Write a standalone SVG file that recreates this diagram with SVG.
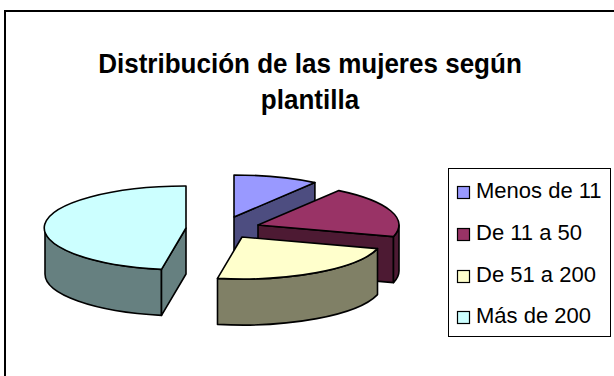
<svg xmlns="http://www.w3.org/2000/svg" width="614" height="376" viewBox="0 0 614 376">
<style>
.t{font-family:"Liberation Sans",Arial,sans-serif;font-weight:bold;font-size:28px;fill:#000;text-anchor:middle}
.l{font-family:"Liberation Sans",Arial,sans-serif;font-size:22px;fill:#000}
.o{stroke:#000;stroke-width:1.6;stroke-linejoin:round}
.k{stroke:#000;stroke-width:1.2}
</style>
<rect x="0" y="0" width="614" height="376" fill="#fff"/>
<rect x="5" y="11" width="640" height="400" fill="#fff" stroke="#000" stroke-width="2"/>
<g id="title" transform="scale(0.93,1)">
<text class="t" x="333.3" y="73">Distribución de las mujeres según</text>
<text class="t" x="333.3" y="109">plantilla</text>
</g>
<g id="slice-menos-de-11">
<path class="o" fill="#4D4D80" d="M234,217 L314.9,182.6 L314.9,228.6 L234,263 Z"/>
<path class="o" fill="#9999FF" d="M234,217 L314.9,182.6 A141,42 0 0,0 234,175 Z"/>
</g>
<g id="slice-de-11-a-50">
<path class="o" fill="#4D1A33" d="M258,225 L393.5,236.6 L393.5,282.6 L258,271 Z"/>
<path class="o" fill="#4D1A33" d="M399,225 A141,42 0 0,1 393.5,236.6 L393.5,282.6 A141,42 0 0,0 399,271 Z"/>
<path class="o" fill="#993366" d="M258,225 L393.5,236.6 A141,42 0 0,0 338.9,190.6 Z"/>
</g>
<g id="slice-de-51-a-200">
<path class="o" fill="#808066" d="M377.5,248.6 A141,42 0 0,1 217.5,278.4 L217.5,324.4 A141,42 0 0,0 377.5,294.6 Z"/>
<path class="o" fill="#FFFFCC" d="M242,237 L377.5,248.6 A141,42 0 0,1 217.5,278.4 Z"/>
</g>
<g id="slice-mas-de-200">
<path class="o" fill="#668080" d="M45,228 A141,42 0 0,0 161.5,269.4 L161.5,315.4 A141,42 0 0,1 45,274 Z"/>
<path class="o" fill="#668080" d="M186,228 L161.5,269.4 L161.5,315.4 L186,274 Z"/>
<path class="o" fill="#CCFFFF" d="M186,228 L186,186 A141,42 0 0,0 161.5,269.4 Z"/>
</g>
<g id="legend">
<rect x="448.5" y="168.5" width="162" height="168" fill="#fff" stroke="#000" stroke-width="1"/>
<rect class="k" x="457.5" y="186.5" width="12" height="12" fill="#9999FF"/>
<text class="l" x="476" y="198">Menos de 11</text>
<rect class="k" x="457.5" y="228.5" width="12" height="12" fill="#993366"/>
<text class="l" x="476" y="240">De 11 a 50</text>
<rect class="k" x="457.5" y="270.5" width="12" height="12" fill="#FFFFCC"/>
<text class="l" x="476" y="282">De 51 a 200</text>
<rect class="k" x="457.5" y="311.5" width="12" height="12" fill="#CCFFFF"/>
<text class="l" x="476" y="323">Más de 200</text>
</g>
</svg>
